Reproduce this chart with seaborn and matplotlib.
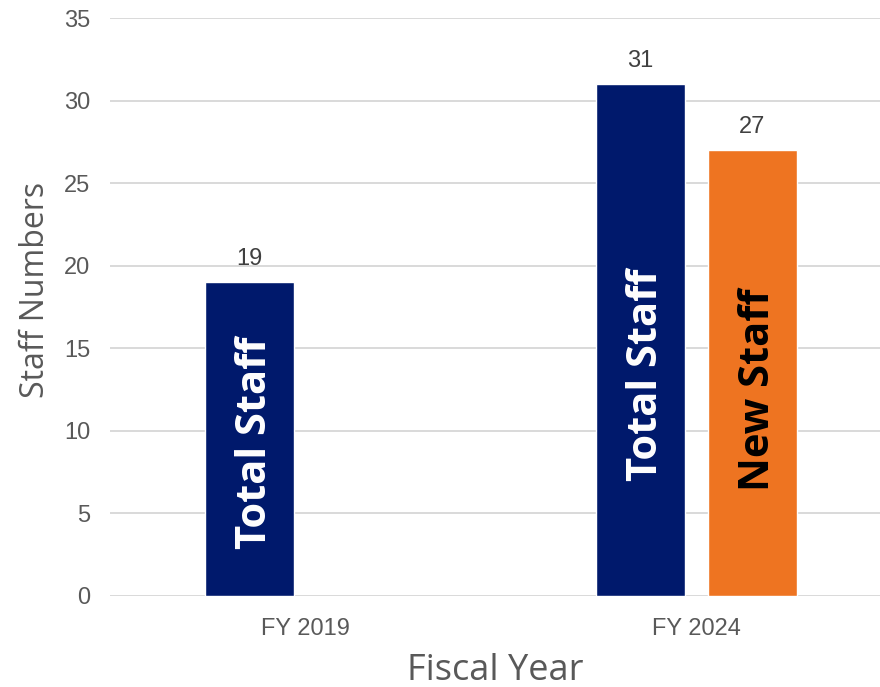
import matplotlib
matplotlib.use("Agg")
import matplotlib.pyplot as plt
import numpy as np
import pandas as pd
import seaborn as sns

# Staff counts by fiscal year
years = ["FY 2019", "FY 2024"]
series = ["Total Staff", "New Staff"]
total_staff = [19, 31]
new_staff = [np.nan, 27]

# Where the rotated series names sit inside each bar (axis units)
inner_label_y = {("FY 2019", "Total Staff"): 9.3,
                 ("FY 2024", "Total Staff"): 13.4,
                 ("FY 2024", "New Staff"): 12.5}

colors = {"Total Staff": "#00196C", "New Staff": "#EE7421"}
inner_text_color = {"Total Staff": "white", "New Staff": "black"}

df = pd.DataFrame({
    "year": years * 2,
    "series": [series[0]] * 2 + [series[1]] * 2,
    "value": total_staff + new_staff,
})

sns.set_theme(style="white")
plt.rcParams["font.family"] = ["Liberation Sans", "DejaVu Sans"]

fig = plt.figure(figsize=(8.8, 6.87), dpi=100)
ax = fig.add_axes([110 / 880, 1 - 596 / 687, 770 / 880, (596 - 18) / 687])

sns.barplot(data=df, x="year", y="value", hue="series", order=years,
            hue_order=series, palette=colors, width=0.573, gap=0.214,
            saturation=1, legend=False, ax=ax, zorder=3)

ax.set_ylim(0, 35)
ax.set_yticks(range(0, 36, 5))
ax.set_xlim(-0.5, -0.5 + 770 / 391)
ax.grid(axis="y", color="#D9D9D9", linewidth=1.4, zorder=0)
ax.set_axisbelow(True)
for s in ax.spines.values():
    s.set_visible(False)
ax.tick_params(axis="both", length=0, labelsize=17, labelcolor="#595959")
ax.tick_params(axis="y", pad=14)
ax.tick_params(axis="x", pad=16)

ax.set_xlabel("Fiscal Year", fontsize=26, color="#595959",
              family=["Open Sans", "DejaVu Sans"], labelpad=9)
ax.set_ylabel("Staff Numbers", fontsize=23, color="#595959",
              family=["Open Sans", "DejaVu Sans"])
ax.yaxis.set_label_coords(-0.0755, 0.529)

# Value labels above bars and series names inside them
for container, name in zip(ax.containers, series):
    sub = df[(df["series"] == name) & df["value"].notna()]
    for bar, year, v in zip(container.patches, sub["year"], sub["value"]):
        cx = bar.get_x() + bar.get_width() / 2
        ax.annotate(f"{int(v)}", (cx, v), xytext=(0, 9), textcoords="offset points",
                    ha="center", va="bottom", fontsize=17, color="#404040")
        ax.annotate(name, (cx, inner_label_y[(year, name)]), xytext=(4.5, 0),
                    textcoords="offset points", rotation=90,
                    ha="center", va="center", fontsize=30, fontweight="bold",
                    color=inner_text_color[name], family=["Open Sans", "DejaVu Sans"])

fig.savefig("out.png", dpi=100)
